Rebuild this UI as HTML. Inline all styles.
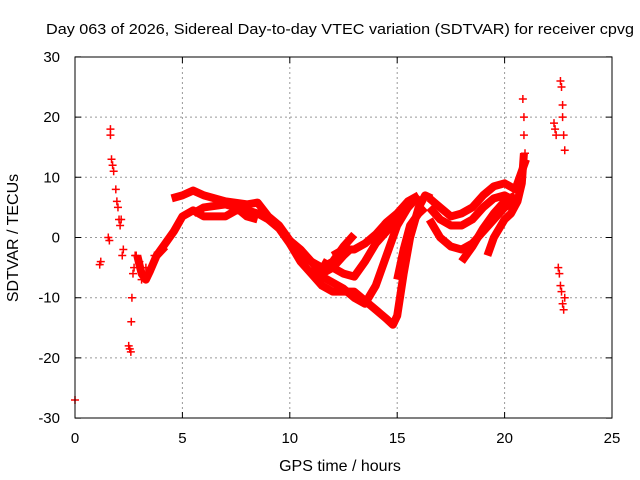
<!DOCTYPE html>
<html><head><meta charset="utf-8"><style>
body{margin:0;background:#fff;}
svg{display:block;font-family:"Liberation Sans",sans-serif;}
</style></head><body>
<svg id="chart" width="640" height="480" viewBox="0 0 640 480">
<rect width="640" height="480" fill="#fff"/>
<text x="340" y="34" font-size="15" text-anchor="middle" textLength="588" lengthAdjust="spacingAndGlyphs">Day 063 of 2026, Sidereal Day-to-day VTEC variation (SDTVAR) for receiver cpvg</text>
<g id="grid"></g>
<g id="marks"></g>
<rect x="75" y="57" width="537" height="361" fill="none" stroke="#000" stroke-width="1"/>
<g id="axes"></g>
<text x="340" y="471" font-size="16" text-anchor="middle">GPS time / hours</text>
<text x="18" y="238" font-size="16" text-anchor="middle" transform="rotate(-90 18 238)">SDTVAR / TECUs</text>
</svg>
<script>
const xTicks=[0,5,10,15,20,25];
const yTicks=[-30,-20,-10,0,10,20,30];
const trackA=[[4.5,6.5],[5,7],[5.5,7.8],[6,7],[7,6],[8,5.5],[8.5,5.8],[9,3.5],[9.5,2],[10,-0.5],[10.5,-2],[11,-4],[11.5,-6],[12,-5],[12.5,-3],[12.8,-2]];
const trackB=[[3.8,-3],[4.2,-1],[4.6,1],[5,3.5],[5.5,4.5],[6,3.5],[7,3.5],[7.5,4.5],[8,4.5],[8.5,4],[9,3],[9.5,1.5],[10,-1],[10.5,-3],[11,-4],[11.5,-5],[12,-4],[12.5,-1.5],[13,0.5]];
const trackB2=[[5.5,4],[6,5],[7,5.5],[7.5,5],[8,3.5],[8.5,3]];
const trackL=[[2.9,-3],[3.1,-6],[3.3,-7],[3.5,-5.5],[3.8,-3],[4.2,-1.5]];
const trackC=[[10,-1],[10.5,-4],[11,-6],[11.5,-8],[12,-9],[13,-9],[13.5,-10.5],[14,-12],[14.5,-13.5],[14.8,-14.5],[15,-13],[15.3,-6],[15.6,0],[16,5],[16.3,7],[16.6,6.5]];
const trackD=[[11,-5],[11.5,-6.5],[12,-7.5],[12.5,-8.5],[13,-10],[13.5,-11],[14,-8],[14.5,-3],[15,2],[15.5,5],[16,7]];
const trackE=[[11.5,-4],[12,-5],[12.5,-6],[13,-6.5],[13.5,-4],[14,-1],[14.5,1],[15,3],[15.5,5],[16,7]];
const trackF=[[12,-3],[12.5,-2],[13,-2],[13.5,-1],[14,0.5],[14.5,2.5],[15,4],[15.5,6],[16,7]];
const trackF2=[[15,-7],[15.3,-2],[15.6,2],[16,4],[16.3,5]];
const trackG=[[16.5,6.5],[17,5],[17.5,3.5],[18,4],[18.5,5],[19,7],[19.5,8.5],[20,9],[20.5,8],[20.8,11],[21,13]];
const trackH=[[16.5,5],[17,3],[17.5,2],[18,2],[18.5,3],[19,5],[19.5,6.5],[20,7],[20.5,6]];
const trackI=[[16.5,3],[17,0],[17.5,-1.5],[18,-2],[18.5,-1],[19,1],[19.5,3],[20,5],[20.5,6]];
const trackJ=[[18,-4],[18.5,-1.5],[19,1.5],[19.5,4],[20,6],[20.5,7]];
const trackK=[[19.2,-3],[19.5,0],[20,3],[20.3,4],[20.6,6],[20.8,9],[20.9,14]];
const tracks=[trackA,trackB,trackB2,trackL,trackC,trackD,trackE,trackF,trackF2,trackG,trackH,trackI,trackJ,trackK];
const scatterX=[0,1.15,1.2,1.55,1.6,1.65,1.65,1.7,1.75,1.8,1.9,1.95,2.0,2.05,2.1,2.15,2.2,2.25,2.5,2.55,2.6,2.62,2.65,2.7,2.75,2.8,2.85,3.0,3.1,3.2,3.3,3.5,3.7,4.0,20.85,20.9,20.9,20.95,22.3,22.35,22.4,22.6,22.65,22.7,22.7,22.75,22.8,22.5,22.55,22.6,22.65,22.7,22.75,22.8];
const scatterY=[-27,-4.5,-4,0,-0.5,18,17,13,12,11,8,6,5,3,2,3,-3,-2,-18,-18.5,-19,-14,-10,-6,-5,-3,-3,-4,-7,-6,-5,-5,-3,-2,23,20,17,14,19,18,17,26,25,22,20,17,14.5,-5,-6,-8,-9,-11,-12,-10];
const X=h=>75+h*21.48, Y=v=>237.5-v*6.02;
const NS='http://www.w3.org/2000/svg';
const grid=document.getElementById('grid'),axes=document.getElementById('axes'),marks=document.getElementById('marks');
xTicks.forEach(t=>{
  const x=X(t);
  if(t>0&&t<25){const l=document.createElementNS(NS,'line');
  
  
  l.setAttribute('x1',x);l.setAttribute('x2',x);l.setAttribute('y1',57);l.setAttribute('y2',418);l.setAttribute('stroke','#999');l.setAttribute('stroke-dasharray','2,3');grid.appendChild(l);}
  const tk=document.createElementNS(NS,'path');
  
  
  tk.setAttribute('d',`M${x},418v-6M${x},57v6`);tk.setAttribute('stroke','#000');axes.appendChild(tk);
  const tx=document.createElementNS(NS,'text');
  
  
  tx.setAttribute('x',x);tx.setAttribute('y',443);tx.setAttribute('font-size','15');tx.setAttribute('text-anchor','middle');tx.textContent=t;axes.appendChild(tx);
});
yTicks.forEach(t=>{
  const y=Y(t);
  if(t>-30&&t<30){const l=document.createElementNS(NS,'line');
  
  
  l.setAttribute('x1',75);l.setAttribute('x2',612);l.setAttribute('y1',y);l.setAttribute('y2',y);l.setAttribute('stroke','#999');l.setAttribute('stroke-dasharray','2,3');grid.appendChild(l);}
  const tk=document.createElementNS(NS,'path');
  
  
  tk.setAttribute('d',`M75,${y}h6M612,${y}h-6`);tk.setAttribute('stroke','#000');axes.appendChild(tk);
  const tx=document.createElementNS(NS,'text');
  
  
  tx.setAttribute('x',60);tx.setAttribute('y',y+5);tx.setAttribute('font-size','15');tx.setAttribute('text-anchor','end');tx.textContent=t;axes.appendChild(tx);
});
tracks.forEach(tr=>{
  const p=document.createElementNS(NS,'polyline');
  
  
  p.setAttribute('points',tr.map(d=>X(d[0])+','+Y(d[1])).join(' '));
  p.setAttribute('fill','none');p.setAttribute('stroke','#f00');p.setAttribute('stroke-width','8');p.setAttribute('stroke-linejoin','round');
  marks.appendChild(p);
});
scatterX.forEach((h,i)=>{
  const x=X(h),y=Y(scatterY[i]);
  const p=document.createElementNS(NS,'path');
  
  
  p.setAttribute('d',`M${x-4},${y}h8M${x},${y-4}v8`);p.setAttribute('stroke','#f00');p.setAttribute('stroke-width','1.5');
  marks.appendChild(p);
});
</script>
</body></html>
